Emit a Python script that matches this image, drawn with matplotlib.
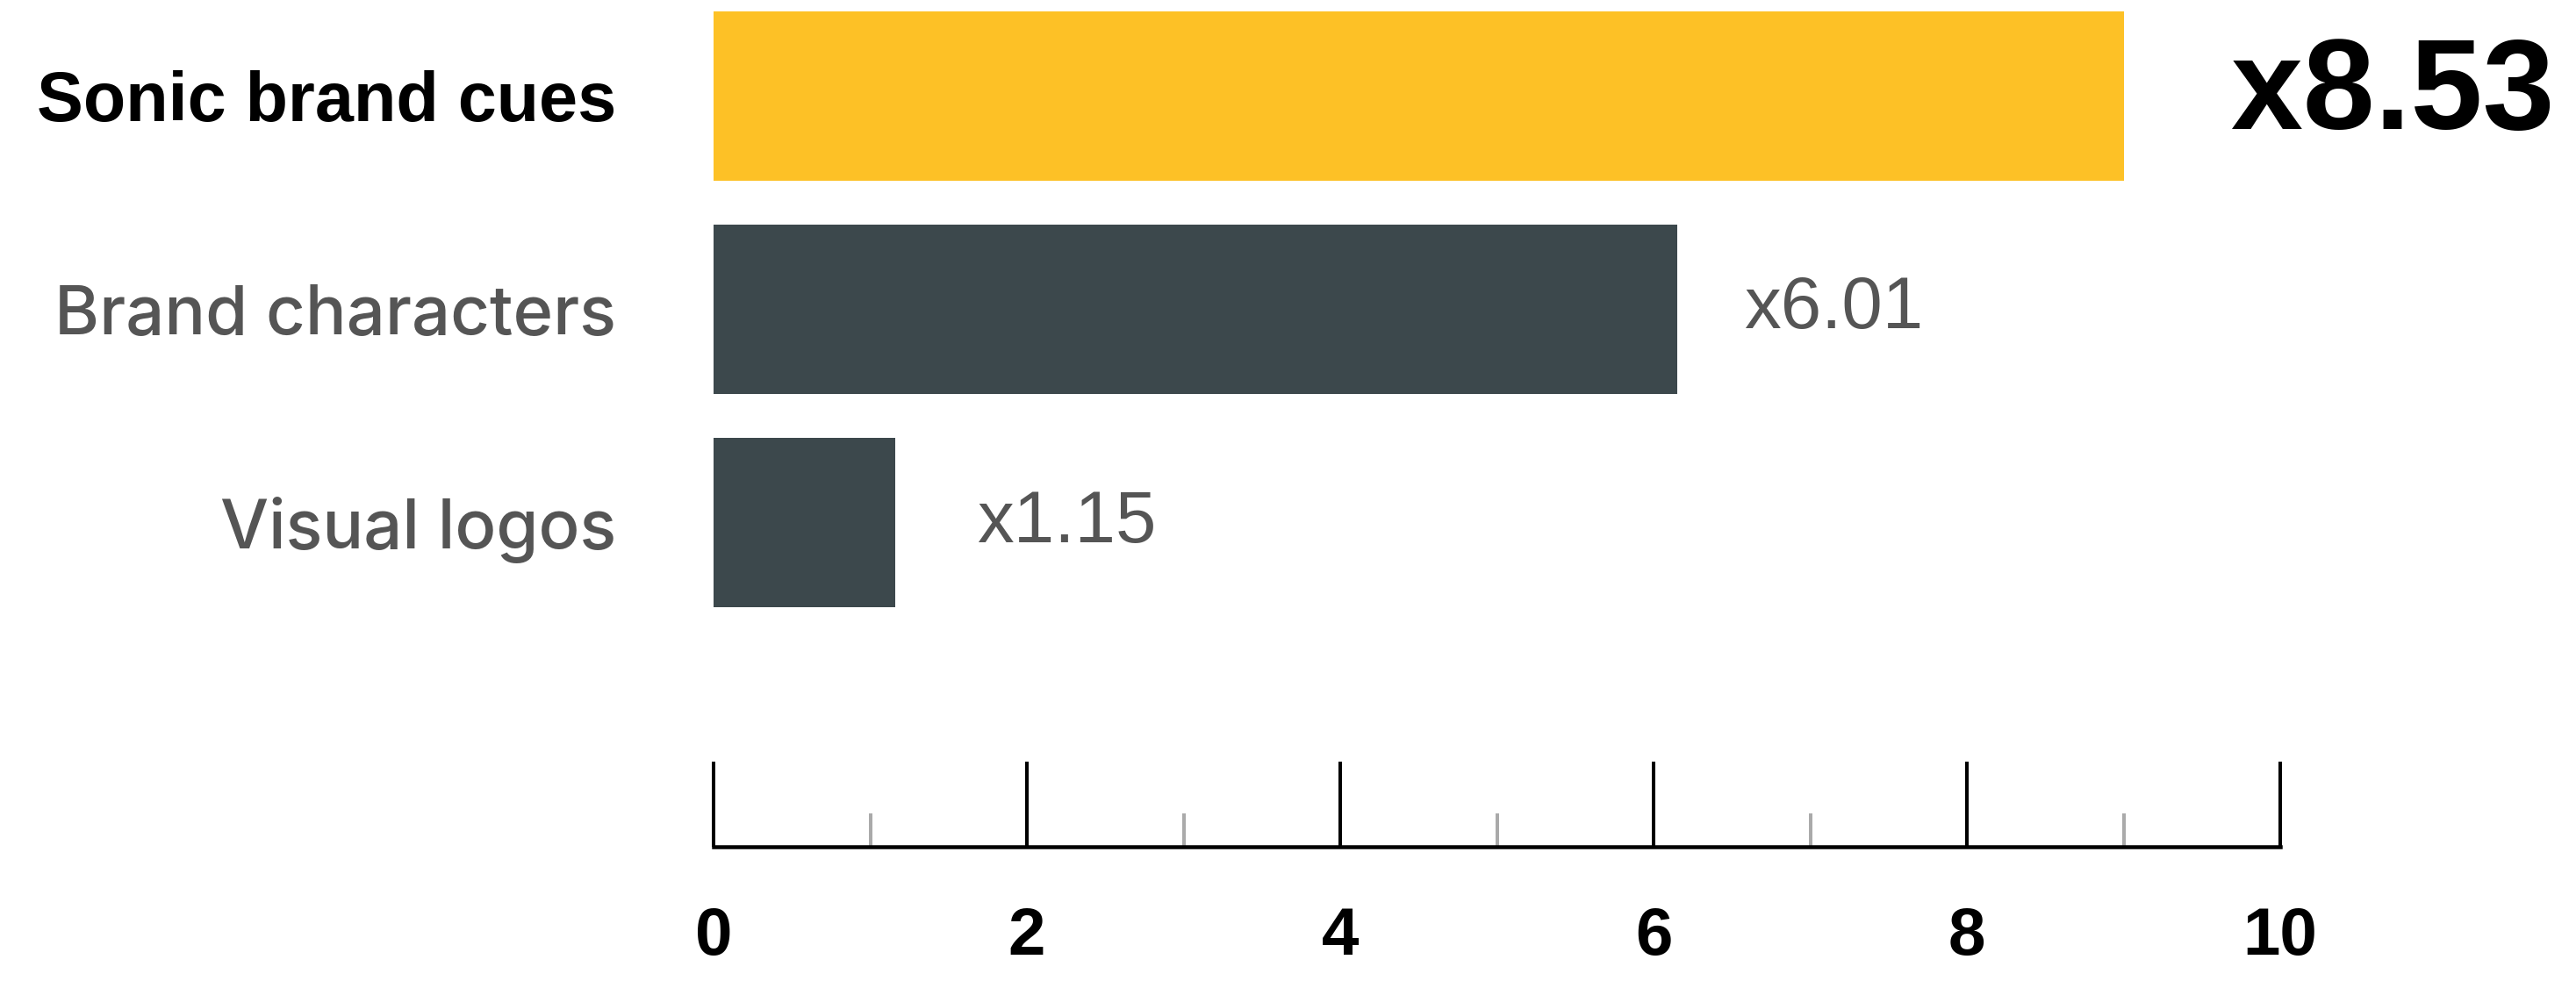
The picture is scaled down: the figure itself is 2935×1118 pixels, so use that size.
import matplotlib
matplotlib.use("Agg")
import matplotlib.pyplot as plt
from matplotlib.ticker import MultipleLocator

# ---- data ----
categories = ["Sonic brand cues", "Brand characters", "Visual logos"]
bar_values = [9.0, 6.15, 1.16]
value_labels = ["x8.53", "x6.01", "x1.15"]
x_ticks = [0, 2, 4, 6, 8, 10]
x_tick_labels = ["0", "2", "4", "6", "8", "10"]

# ---- style ----
bar_colors = ["#FDC126", "#3C484C", "#3C484C"]
label_colors = ["#000000", "#555555", "#555555"]
label_weights = ["bold", 500, 500]
label_families = [["Liberation Sans", "DejaVu Sans"], ["Inter", "DejaVu Sans"], ["Inter", "DejaVu Sans"]]
label_sizes = [57, 56, 56]
value_sizes = [106, 60, 60]
value_weights = ["bold", "normal", "normal"]
value_colors = ["#000000", "#555555", "#555555"]
value_offsets_px = [122, 76, 93]

DPI = 100
W, H = 2935, 1118
plt.rcParams["font.family"] = ["Liberation Sans", "DejaVu Sans"]

fig = plt.figure(figsize=(W / DPI, H / DPI), dpi=DPI)
x0, x1 = 813, 2598
base_y = 965
ax = fig.add_axes([x0 / W, (H - base_y) / H, (x1 - x0) / W, base_y / H])

pos = list(range(len(categories)))
ax.barh(pos, bar_values, height=0.794, color=bar_colors, zorder=2)
ax.set_xlim(0, 10)
ax.set_ylim(3.52, -0.45)

# value labels
px2pt = 72 / DPI
for i, (v, lab) in enumerate(zip(bar_values, value_labels)):
    ax.annotate(lab, xy=(v, i), xytext=(value_offsets_px[i] * px2pt, 0),
                textcoords="offset points", ha="left", va="center",
                fontsize=value_sizes[i], fontweight=value_weights[i],
                color=value_colors[i])

# y labels
ax.set_yticks(pos)
ax.set_yticklabels(categories)
for t, c, w, f, s in zip(ax.get_yticklabels(), label_colors, label_weights,
                         label_families, label_sizes):
    t.set_color(c)
    t.set_fontweight(w)
    t.set_family(f)
    t.set_fontsize(s)
ax.tick_params(axis="y", length=0, pad=111 * px2pt)

# ruler axis
for s in ["top", "right", "left"]:
    ax.spines[s].set_visible(False)
ax.spines["bottom"].set_linewidth(4.5 * px2pt)
ax.spines["bottom"].set_color("#000000")
ax.set_xticks(x_ticks)
ax.set_xticklabels(x_tick_labels, fontsize=55, fontweight="bold")
ax.xaxis.set_minor_locator(MultipleLocator(1))
ax.tick_params(axis="x", which="major", direction="in", length=97 * px2pt,
               width=4 * px2pt, color="#000000", pad=68 * px2pt)
ax.tick_params(axis="x", which="minor", direction="in", length=38 * px2pt,
               width=4 * px2pt, color="#AAAAAA")

fig.savefig("out.png", dpi=DPI, facecolor="white")
